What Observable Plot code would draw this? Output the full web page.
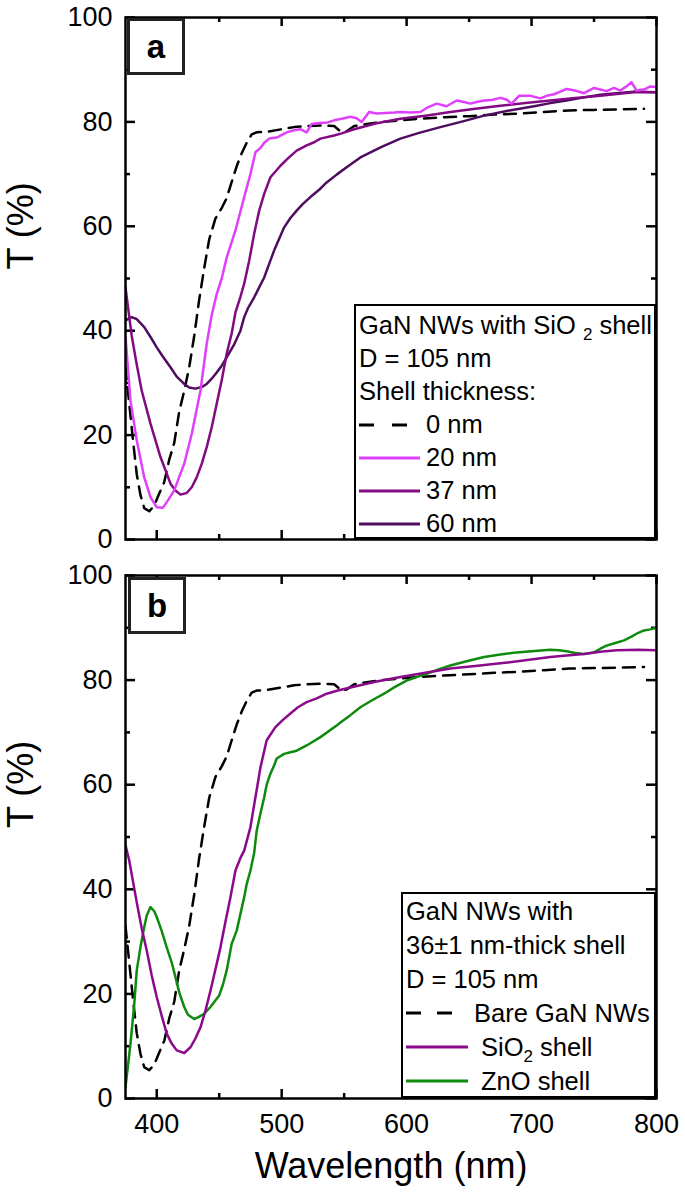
<!DOCTYPE html>
<html>
<head>
<meta charset="utf-8">
<script src="https://cdn.jsdelivr.net/npm/d3@7"></script>
<script src="https://cdn.jsdelivr.net/npm/@observablehq/plot@0.6"></script>
<style>
  body { margin: 0; background: #fff; }
  #fig { position: relative; width: 685px; height: 1200px; font-family: "Liberation Sans", Arial, sans-serif; color: #000; }
  #fig svg.plot { position: absolute; left: 0; }
  .panelTag { position: absolute; box-sizing: border-box; border: 3.5px solid #222; background: #fff;
    font-weight: bold; font-size: 33px; display: flex; align-items: center; justify-content: center; }
  .legend { position: absolute; box-sizing: border-box; border: 2px solid #000; background: #fff; font-size: 25.5px; }
  .legend .row { display: flex; align-items: center; white-space: nowrap; }
  .legend .row span { white-space: pre; }
  .legend svg { display: block; flex: none; }
  .legend sub { font-size: 17px; vertical-align: -6px; line-height: 0; }
</style>
</head>
<body>
<div id="fig"></div>
<script>
// ---------- data ----------
const xMajor = [400, 500, 600, 700, 800];
const xMinor = [450, 550, 650, 750];
const yMajor = [0, 20, 40, 60, 80, 100];
const yMinor = [10, 30, 50, 70, 90];

// bare GaN NWs (0 nm shell), same in both panels
const bareWl = [375, 378, 381, 384, 387, 390, 394, 398, 402, 406, 410, 414, 418, 422, 426, 430, 434, 438, 442, 447, 452, 456, 460, 464, 468, 472, 476, 480, 488, 500, 510, 520, 531, 542, 548, 552, 558, 568, 580, 595, 610, 630, 650, 670, 690, 710, 730, 750, 770, 790];
const bareT  = [33, 26, 19, 12.5, 8.5, 6, 5.4, 6.5, 8.8, 11, 15.3, 18.5, 24.5, 28.5, 33, 39, 46, 52, 57.5, 61.5, 63.5, 65.4, 68.5, 71.5, 74, 76, 77.6, 78, 78.1, 78.6, 79, 79.2, 79.3, 79.2, 78, 78.2, 79.2, 79.6, 80, 80.3, 80.6, 80.9, 81.1, 81.4, 81.6, 81.9, 82.2, 82.3, 82.4, 82.5];

// panel a: SiO2 shell 20 nm
const s20Wl = [375, 379, 384, 390, 395, 400, 405, 409, 414, 418, 422, 428, 435, 440, 444, 448, 452, 456, 463, 470, 475, 479, 483, 486, 490, 496, 504, 510, 515, 520, 524, 530, 537, 542, 548, 555, 560, 564, 570, 576, 583, 590, 595, 603, 611, 617, 624, 632, 640, 646, 651, 656, 662, 668, 675, 680, 684, 690, 699, 707, 712, 718, 723, 728, 735, 742, 750, 755, 760, 766, 771, 776, 780, 784, 790, 795, 800];
const s20T  = [38.8, 26.6, 19, 11.9, 8.1, 6.2, 6.1, 7.5, 9.4, 12, 14.5, 20.2, 28.5, 37.5, 43, 47, 50, 54, 59.2, 65.6, 70, 74.2, 75, 76, 76.8, 77, 78, 78.4, 78.6, 78, 79.6, 79.8, 79.9, 80.3, 80.6, 81, 80.7, 80, 81.9, 81.6, 81.7, 81.8, 81.9, 81.8, 81.9, 82.8, 83.5, 83, 84.1, 83.8, 83.5, 83.8, 84.1, 84.2, 84.6, 84.3, 83.5, 85, 85, 84.5, 85, 85.3, 85.8, 86.3, 86, 85.5, 86.5, 86.2, 85.9, 86.5, 86, 86.8, 87.6, 86, 86.2, 86.8, 86.7];

// panel a: SiO2 shell 37 nm
const s37Wl = [375, 377, 380, 384, 388, 395, 403, 411, 415, 419, 424, 428, 432, 436, 440, 444, 448, 452, 456, 460, 463, 467, 470, 474, 478, 482, 486, 491, 499, 505, 512, 520, 526, 531, 542, 548, 558, 575, 595, 615, 635, 655, 675, 695, 715, 735, 755, 770, 782, 800];
const s37T  = [48.3, 44.5, 39, 33.5, 28.5, 22.2, 15.8, 10.7, 9.4, 8.6, 8.9, 10, 11.9, 14.5, 17.7, 21.5, 26, 30.5, 35.6, 39.5, 43.5, 46.5, 49, 53.4, 58.6, 63, 66.2, 69.4, 71.6, 73, 74.5, 75.5, 76.1, 76.8, 77.4, 77.8, 78.6, 79.7, 80.6, 81.2, 81.9, 82.5, 83.1, 83.6, 84.1, 84.6, 85, 85.4, 85.7, 85.7];

// panel a: SiO2 shell 60 nm
const s60Wl = [375, 380, 384, 390, 395, 400, 405, 411, 416, 422, 426, 431, 436, 440, 444, 448, 452, 456, 462, 467, 470, 473, 478, 482, 486, 490, 494, 498, 502, 507, 512, 517, 523, 530, 536, 544, 552, 563, 580, 595, 610, 627, 645, 662, 680, 702, 715, 728, 742, 755, 768, 782, 800];
const s60T  = [42, 42.6, 42.2, 40.7, 38.8, 36.8, 35, 33, 31.2, 29.8, 29.1, 28.9, 29.2, 29.8, 30.8, 32, 33.3, 34.9, 37.4, 40, 42.6, 44.3, 46.4, 48.3, 50.2, 52.8, 55.4, 57.6, 59.8, 61.6, 63, 64.3, 65.6, 67, 68.4, 69.9, 71.3, 73.2, 75.2, 76.8, 77.9, 79, 80.1, 81.2, 82.1, 83, 83.6, 84.1, 84.7, 85.2, 85.5, 85.8, 85.7];

// panel b: SiO2 shell (36 nm)
const bSiWl = [375, 378, 381, 384, 388, 392, 396, 400, 404, 408, 412, 416, 422, 427, 431, 435, 439, 443, 447, 451, 455, 459, 463, 467, 470, 475, 479, 483, 488, 495, 501, 507, 513, 520, 528, 536, 545, 555, 575, 595, 615, 635, 655, 675, 695, 715, 728, 742, 755, 768, 785, 800];
const bSiT  = [48.4, 45.5, 41.5, 37.5, 32.5, 28.3, 23.5, 19.4, 15.8, 12.4, 10.5, 9.2, 8.7, 9.8, 11.5, 13.6, 16.8, 20.6, 24.7, 28.9, 33.8, 38.5, 43.6, 46, 47.4, 51.9, 57.6, 63.3, 68.5, 71, 72.4, 73.6, 74.8, 75.8, 76.5, 77.4, 78, 78.6, 79.7, 80.6, 81.4, 82.2, 82.7, 83.2, 83.8, 84.4, 84.7, 85, 85.4, 85.7, 85.8, 85.7];

// panel b: ZnO shell
const bZnWl = [375, 379, 382, 384, 387, 390, 392, 395, 398, 400, 404, 408, 412, 415, 418, 422, 425, 430, 433, 438, 443, 450, 453, 456, 460, 464, 467, 470, 472, 475, 478, 480, 483, 486, 488, 491, 494, 496, 502, 507, 512, 520, 531, 544, 547, 555, 563, 572, 582, 590, 600, 608, 616, 625, 635, 648, 662, 675, 688, 700, 715, 722, 728, 735, 742, 750, 755, 760, 767, 774, 780, 785, 790, 795, 800];
const bZnT  = [2.2, 10.5, 18, 24.5, 29, 32.8, 35, 36.6, 35.8, 34.7, 32, 28.9, 26, 23.2, 20.3, 17.5, 16, 15.2, 15.5, 16.2, 17.5, 19.7, 21.8, 24.5, 29.6, 32.1, 35.3, 38.5, 41, 43.6, 47, 51.2, 54.5, 57.6, 60, 62.1, 63.7, 65, 65.9, 66.2, 66.5, 67.5, 69.1, 71.3, 71.9, 73.3, 74.8, 76.1, 77.4, 78.6, 79.9, 80.6, 81.2, 82, 82.8, 83.6, 84.4, 84.9, 85.3, 85.5, 85.8, 85.7, 85.5, 85.2, 85, 85.3, 86, 86.6, 87.1, 87.6, 88.3, 89, 89.5, 89.7, 90];

// ---------- helpers ----------
const rows = (wl, T) => wl.map((w, i) => ({wl: w, T: T[i]}));
const FONT = "'Liberation Sans', Arial, sans-serif";
const W = 685, ML = 125, MR = 29;

// inward tick marks on all four sides: full-frame ticks trimmed by pixel insets
function inwardTicks(frameH) {
  const frameW = W - ML - MR;
  const st = {stroke: "#000", strokeWidth: 2.5};
  const out = [];
  for (const [vals, len] of [[xMajor, 9], [xMinor, 5]]) {
    out.push(Plot.tickX(vals, {...st, x: d => d, insetTop: frameH - len}));
    out.push(Plot.tickX(vals, {...st, x: d => d, insetBottom: frameH - len}));
  }
  for (const [vals, len] of [[yMajor, 10], [yMinor, 5]]) {
    out.push(Plot.tickY(vals, {...st, y: d => d, insetRight: frameW - len}));
    out.push(Plot.tickY(vals, {...st, y: d => d, insetLeft: frameW - len}));
  }
  return out;
}

function panel({height, marginTop, marginBottom, series, showX}) {
  const marks = [
    ...inwardTicks(height - marginTop - marginBottom),
    Plot.axisY(yMajor, {anchor: "left", tickSize: 0, tickPadding: 13, fontSize: 27, label: null}),
    Plot.text(["T (%)"], {frameAnchor: "left", dx: -104, dy: -9, rotate: -90, fontSize: 36, text: d => d})
  ];
  if (showX) {
    marks.push(Plot.axisX(xMajor, {anchor: "bottom", tickSize: 0, tickPadding: 15, fontSize: 27, label: null}));
    marks.push(Plot.text(["Wavelength (nm)"], {frameAnchor: "bottom", dy: 79, fontSize: 36, text: d => d}));
  }
  for (const s of series) {
    marks.push(Plot.line(rows(s.wl, s.T), {x: "wl", y: "T", stroke: s.color, strokeWidth: 2.5,
      strokeDasharray: s.dash || null, clip: true}));
  }
  marks.push(Plot.frame({stroke: "#000", strokeWidth: 2.5}));
  return Plot.plot({
    width: W, height, marginLeft: ML, marginRight: MR, marginTop, marginBottom,
    x: {domain: [375, 800], label: null, axis: null},
    y: {domain: [0, 100], label: null, axis: null},
    style: {fontFamily: FONT, fontSize: "27px", color: "#000", background: "transparent", overflow: "visible"},
    marks
  });
}

const fig = document.getElementById("fig");

const pa = panel({height: 560, marginTop: 17, marginBottom: 21, showX: false, series: [
  {wl: bareWl, T: bareT, color: "#000", dash: "12,8"},
  {wl: s60Wl, T: s60T, color: "#4e0d5e"},
  {wl: s37Wl, T: s37T, color: "#820a82"},
  {wl: s20Wl, T: s20T, color: "#e040fb"}
]});
pa.classList.add("plot");
pa.style.top = "0px";
fig.appendChild(pa);

const pb = panel({height: 640, marginTop: 15, marginBottom: 102, showX: true, series: [
  {wl: bareWl, T: bareT, color: "#000", dash: "12,8"},
  {wl: bZnWl, T: bZnT, color: "#0e8a0e"},
  {wl: bSiWl, T: bSiT, color: "#8b0a8b"}
]});
pb.classList.add("plot");
pb.style.top = "560px";
fig.appendChild(pb);

// panel tags
function tag(letter, left, top) {
  const d = document.createElement("div");
  d.className = "panelTag";
  d.style.cssText = `left:${left}px;top:${top}px;width:58px;height:57px;`;
  d.textContent = letter;
  fig.appendChild(d);
}
tag("a", 127, 18);
tag("b", 128, 577);

// legends
function sample(color, dash, w) {
  return `<svg width="${w}" height="6"><line x1="0" y1="3" x2="${w}" y2="3" stroke="${color}" stroke-width="3" ${dash ? `stroke-dasharray="${dash}"` : ""}/></svg>`;
}
function legend({left, top, width, height, rowH, padTop, padLeft, rows}) {
  const d = document.createElement("div");
  d.className = "legend";
  d.style.cssText = `left:${left}px;top:${top}px;width:${width}px;height:${height}px;padding-top:${padTop}px;padding-left:${padLeft}px;`;
  d.innerHTML = rows.map(r => `<div class="row" style="height:${rowH}px">${r}</div>`).join("");
  fig.appendChild(d);
}
legend({left: 354, top: 304, width: 302, height: 235, rowH: 33, padTop: 3, padLeft: 3, rows: [
  `<span>GaN NWs with SiO <sub>2</sub> shell</span>`,
  `<span>D = 105 nm</span>`,
  `<span>Shell thickness:</span>`,
  `${sample("#000", "15,18", 61)}<span style="margin-left:6px">0 nm</span>`,
  `${sample("#e040fb", null, 61)}<span style="margin-left:6px">20 nm</span>`,
  `${sample("#820a82", null, 61)}<span style="margin-left:6px">37 nm</span>`,
  `${sample("#4e0d5e", null, 61)}<span style="margin-left:6px">60 nm</span>`
]});
legend({left: 401, top: 892, width: 255, height: 206, rowH: 34, padTop: 0, padLeft: 3, rows: [
  `<span>GaN NWs with</span>`,
  `<span>36±1 nm-thick shell</span>`,
  `<span>D = 105 nm</span>`,
  `${sample("#000", "15,16", 62)}<span style="margin-left:6px">Bare GaN NWs</span>`,
  `${sample("#8b0a8b", null, 62)}<span style="margin-left:13px">SiO<sub>2</sub> shell</span>`,
  `${sample("#0e8a0e", null, 62)}<span style="margin-left:13px">ZnO shell</span>`
]});
</script>
</body>
</html>
